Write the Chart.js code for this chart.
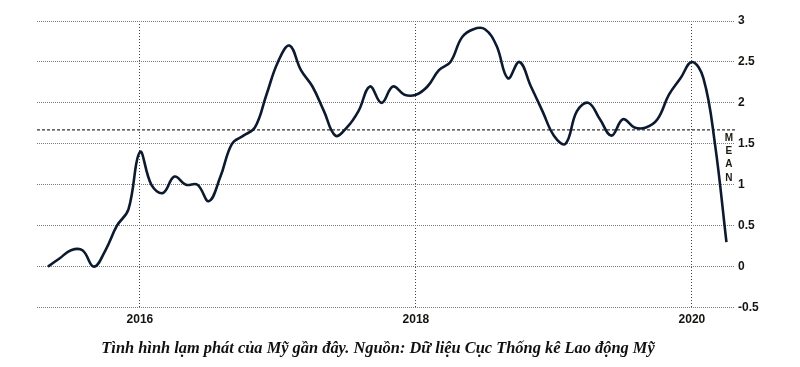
<!DOCTYPE html>
<html>
<head>
<meta charset="utf-8">
<script src="https://cdn.jsdelivr.net/npm/chart.js@4"></script>
<style>
  html, body { margin: 0; padding: 0; background: #fff; }
  #wrap { position: relative; width: 800px; height: 367px; }
  #caption {
    position: absolute; left: 0; top: 338px; width: 756px;
    text-align: center;
    font: italic bold 16.4px "Liberation Serif", serif;
    color: #111;
  }
</style>
</head>
<body>
<div id="wrap">
  <canvas id="grafico" width="800" height="367"></canvas>
  <div id="caption">Tình hình lạm phát của Mỹ gần đây. Nguồn: Dữ liệu Cục Thống kê Lao động Mỹ</div>
</div>
<script>
// thang: nam-thang, lamPhat: % so voi cung ky
const thang = [
  "2015-05","2015-06","2015-07","2015-08","2015-09","2015-10","2015-11","2015-12",
  "2016-01","2016-02","2016-03","2016-04","2016-05","2016-06","2016-07","2016-08","2016-09","2016-10","2016-11","2016-12",
  "2017-01","2017-02","2017-03","2017-04","2017-05","2017-06","2017-07","2017-08","2017-09","2017-10","2017-11","2017-12",
  "2018-01","2018-02","2018-03","2018-04","2018-05","2018-06","2018-07","2018-08","2018-09","2018-10","2018-11","2018-12",
  "2019-01","2019-02","2019-03","2019-04","2019-05","2019-06","2019-07","2019-08","2019-09","2019-10","2019-11","2019-12",
  "2020-01","2020-02","2020-03","2020-04"
];
const lamPhat = [
  0.0, 0.1, 0.2, 0.2, 0.0, 0.2, 0.5, 0.7,
  1.4, 1.0, 0.9, 1.1, 1.0, 1.0, 0.8, 1.1, 1.5, 1.6, 1.7, 2.1,
  2.5, 2.7, 2.4, 2.2, 1.9, 1.6, 1.7, 1.9, 2.2, 2.0, 2.2, 2.1,
  2.1, 2.2, 2.4, 2.5, 2.8, 2.9, 2.9, 2.7, 2.3, 2.5, 2.2, 1.9,
  1.6, 1.5, 1.9, 2.0, 1.8, 1.6, 1.8, 1.7, 1.7, 1.8, 2.1, 2.3,
  2.5, 2.3, 1.5, 0.3
];
const trungBinh = 1.67;
const nhanNam = [2016, 2018, 2020];
const nhanTruc = [-0.5, 0, 0.5, 1, 1.5, 2, 2.5, 3];

const xMin = 2015.254, xMax = 2020.312;

const toYear = s => {
  const [y, m] = s.split("-").map(Number);
  return y + (m - 1) / 12;
};

const chuMean = {
  id: "chuMean",
  afterDatasetsDraw(chart) {
    const {ctx, scales} = chart;
    const x = scales.x.getPixelForValue(2020.268);
    const y0 = scales.y.getPixelForValue(trungBinh);
    ctx.save();
    ctx.fillStyle = "#1a1a10";
    ctx.font = "bold 10px 'Liberation Sans', Arial, sans-serif";
    ctx.textAlign = "center";
    ctx.textBaseline = "middle";
    "MEAN".split("").forEach((c, i) => ctx.fillText(c, x, y0 + 8 + i * 13.3));
    ctx.restore();
  }
};

const config = {
  type: "line",
  data: {
    datasets: [
      {
        label: "Lạm phát",
        data: thang.map((t, i) => ({x: toYear(t), y: lamPhat[i]})),
        borderColor: "#0c1a30",
        borderWidth: 2.6,
        pointRadius: 0,
        tension: 0.4,
        fill: false,
      },
      {
        label: "MEAN",
        data: [{x: xMin, y: trungBinh}, {x: xMax, y: trungBinh}],
        borderColor: "#333",
        borderWidth: 1.3,
        borderDash: [3, 2],
        pointRadius: 0,
        fill: false,
      },
    ],
  },
  options: {
    responsive: false,
    animation: false,
    layout: {padding: {top: 21, left: 37, right: 0, bottom: 35}},
    plugins: {
      legend: {display: false},
      tooltip: {enabled: false},
    },
    scales: {
      x: {
        type: "linear",
        min: xMin,
        max: xMax,
        afterBuildTicks: (scale) => { scale.ticks = nhanNam.map(v => ({value: v})); },
        grid: {color: "#444", lineWidth: 1, drawTicks: false},
        border: {display: false, dash: [1, 2]},
        ticks: {
          padding: 5,
          color: "#151510",
          font: {family: "'Liberation Sans', Arial, sans-serif", size: 12, weight: "bold"},
          callback: v => String(v),
        },
      },
      y: {
        position: "right",
        min: -0.5,
        max: 3,
        afterBuildTicks: (scale) => { scale.ticks = nhanTruc.map(v => ({value: v})); },
        afterFit: (scale) => { scale.width = 65; },
        grid: {color: "#7a7a7a", lineWidth: 1, drawTicks: false},
        border: {display: false, dash: [1, 1]},
        ticks: {
          padding: 3,
          color: "#151510",
          font: {family: "'Liberation Sans', Arial, sans-serif", size: 12, weight: "bold"},
          callback: v => String(v),
        },
      },
    },
  },
  plugins: [chuMean],
};

new Chart(document.getElementById("grafico"), config);
</script>
</body>
</html>
